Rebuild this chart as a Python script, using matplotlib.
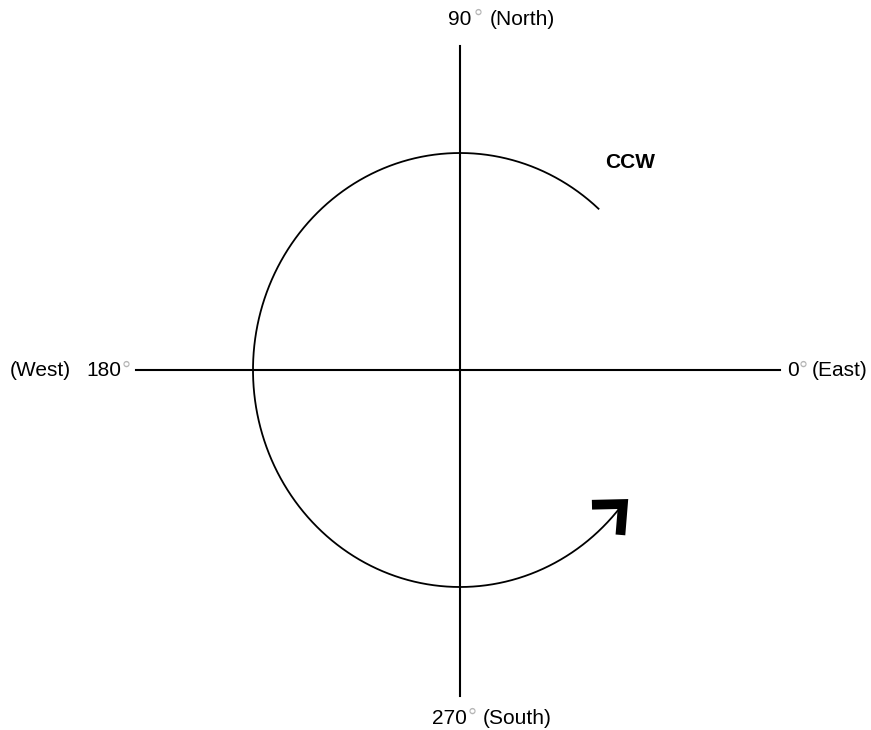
import numpy as np
import matplotlib
matplotlib.use('Agg')
import matplotlib.pyplot as plt

plt.rcParams['font.family'] = ['Liberation Sans', 'DejaVu Sans']

# compass labels: (angle in degrees, direction name)
angles = [90, 180, 0, 270]
directions = ['North', 'West', 'East', 'South']

# rotation arc (ellipse radii in px, start/end angle in degrees)
arc_rx, arc_ry = 207, 217
arc_start, arc_end = 48, 320
axis_left, axis_right = -324, 320
axis_top, axis_bottom = 324, -326

fig = plt.figure(figsize=(8.71, 7.30), dpi=100)
ax = fig.add_axes([0, 0, 1, 1])
ax.set_xlim(-460, 411)
ax.set_ylim(-360, 370)
ax.axis('off')

# axes cross
ax.plot([axis_left, axis_right], [0, 0], color='black', lw=1.5)
ax.plot([0, 0], [axis_bottom, axis_top], color='black', lw=1.5)

# CCW arc
t = np.radians(np.linspace(arc_start, arc_end, 300))
ax.plot(arc_rx * np.cos(t), arc_ry * np.sin(t), color='black', lw=1.3)

# chevron arrow head at the end of the arc
te = np.radians(arc_end)
ex, ey = arc_rx * np.cos(te), arc_ry * np.sin(te)
tx, ty = -arc_rx * np.sin(te), arc_ry * np.cos(te)
n = np.hypot(tx, ty)
tx, ty = tx / n, ty / n
tipx, tipy = ex + 7 * tx, ey + 7 * ty
back = np.arctan2(-ty, -tx)
arm = 31
a1, a2 = back - np.radians(50), back + np.radians(34)
ax.plot([tipx + arm * np.cos(a1), tipx, tipx + arm * np.cos(a2)],
        [tipy + arm * np.sin(a1), tipy, tipy + arm * np.sin(a2)],
        color='black', lw=7, solid_joinstyle='miter', solid_capstyle='butt')

fs = 15
lab = dict(fontsize=fs, ha='left', va='baseline')
deg = dict(fontsize=16, color='#b5b5b5', ha='left', va='baseline')

# North
ax.text(-12, 345, str(angles[0]), **lab)
ax.text(14, 345, '°', **deg)
ax.text(30, 345, '(' + directions[0] + ')', **lab)
# West
ax.text(-450, -6.5, '(' + directions[1] + ')', **lab)
ax.text(-374, -6.5, str(angles[1]), **lab)
ax.text(-338, -6.5, '°', **deg)
# East
ax.text(327, -6.5, str(angles[2]), **lab)
ax.text(339, -6.5, '°', **deg)
ax.text(352, -6.5, '(' + directions[2] + ')', **lab)
# South
ax.text(-28, -354, str(angles[3]), **lab)
ax.text(8, -354, '°', **deg)
ax.text(23, -354, '(' + directions[3] + ')', **lab)

ax.text(145, 208, 'CCW', fontsize=15, fontweight='bold', ha='left', va='center')

fig.savefig('out.png', dpi=100, facecolor='white')
